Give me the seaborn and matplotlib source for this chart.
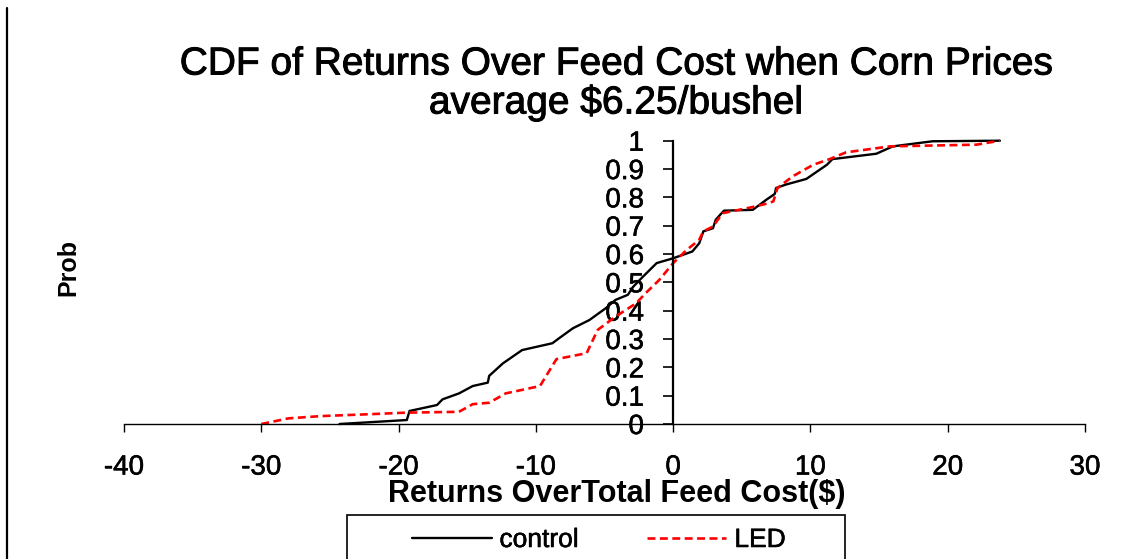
import numpy as np
import pandas as pd
import matplotlib
matplotlib.use("Agg")
import matplotlib.pyplot as plt
import matplotlib.patheffects as pe
import seaborn as sns
from matplotlib.lines import Line2D
from matplotlib.patches import Rectangle

# ---- data ----
control_x = [-24.3, -19.4, -19.2, -17.2, -16.8, -15.6, -14.6, -13.5, -13.4, -12.4,
             -11.0, -8.8, -8.3, -7.3, -6.1, -4.9, -4.2, -3.3, -2.9, -2.2, -1.2, 0.0,
             1.4, 1.9, 2.2, 2.9, 3.1, 3.7, 5.8, 6.8, 7.4, 7.5, 8.2, 9.7, 11.2, 11.6,
             14.8, 16.0, 18.9, 23.8]
control_p = [0.0, 0.014, 0.046, 0.067, 0.087, 0.108, 0.134, 0.146, 0.170, 0.214,
             0.261, 0.285, 0.303, 0.338, 0.367, 0.409, 0.438, 0.456, 0.485, 0.520, 0.568, 0.585,
             0.609, 0.638, 0.680, 0.691, 0.721, 0.753, 0.756, 0.792, 0.812, 0.833, 0.845, 0.865, 0.915, 0.935,
             0.954, 0.980, 0.998, 1.0]

led_x = [-30.0, -28.0, -25.6, -21.9, -19.5, -15.6, -14.6, -13.4, -12.2, -9.7,
         -8.5, -6.3, -5.5, -4.2, -2.7, -2.0, -1.0, 0.0, 1.0, 1.9, 2.2, 2.9,
         3.6, 5.8, 7.0, 7.3, 7.6, 8.7, 10.2, 11.4, 12.6, 15.8, 22.1, 23.8]
led_p = [0.0, 0.020, 0.028, 0.035, 0.040, 0.043, 0.070, 0.075, 0.108, 0.134,
         0.229, 0.250, 0.332, 0.379, 0.426, 0.462, 0.509, 0.568, 0.615, 0.650, 0.680, 0.697,
         0.744, 0.766, 0.780, 0.786, 0.833, 0.874, 0.915, 0.935, 0.959, 0.980, 0.986, 1.0]

x_ticks = [-40, -30, -20, -10, 0, 10, 20, 30]
y_ticks = [0, 0.1, 0.2, 0.3, 0.4, 0.5, 0.6, 0.7, 0.8, 0.9, 1]
y_tick_labels = ["0", "0.1", "0.2", "0.3", "0.4", "0.5", "0.6", "0.7", "0.8", "0.9", "1"]

title = "CDF of Returns Over Feed Cost when Corn Prices\naverage \\$6.25/bushel"
x_label = "Returns OverTotal Feed Cost(\\$)"
y_label = "Prob"

# ---- style ----
sns.set_theme(style="white")
plt.rcParams["font.family"] = ["Liberation Sans", "DejaVu Sans"]
plt.rcParams["text.color"] = "black"
plt.rcParams["axes.labelcolor"] = "black"

heavy = [pe.withStroke(linewidth=0.4, foreground="black")]

W, H = 1136, 559
fig = plt.figure(figsize=(W / 100, H / 100), dpi=100)
ax = fig.add_axes([124 / W, 1 - 424 / H, (1085 - 124) / W, (424 - 140.7) / H])

sns.lineplot(x=control_x, y=control_p, ax=ax, color="black", lw=1.7,
             estimator=None, sort=False, label="control")
sns.lineplot(x=led_x, y=led_p, ax=ax, color="#ff0000", lw=1.9,
             linestyle=(0, (3, 1.7)), estimator=None, sort=False, label="LED")
for ln in ax.lines:
    ln.set_clip_on(False)

ax.set_xlim(-40, 30)
ax.set_ylim(0, 1)
ax.spines["left"].set_position(("data", 0))
ax.spines["top"].set_visible(False)
ax.spines["right"].set_visible(False)
ax.spines["left"].set_color("black")
ax.spines["bottom"].set_color("black")
ax.spines["left"].set_linewidth(1.6)
ax.spines["bottom"].set_linewidth(1.0)

ax.set_xticks(x_ticks)
ax.set_xticklabels([str(v) for v in x_ticks])
ax.set_yticks(y_ticks)
ax.set_yticklabels(y_tick_labels)
ax.tick_params(axis="y", direction="out", length=7, width=1.2, pad=14,
               labelsize=20, left=True, color="black", labelcolor="black")
ax.tick_params(axis="x", direction="out", length=6, width=1.0, pad=16,
               labelsize=20, bottom=True, color="black", labelcolor="black")
for t in ax.get_xticklabels() + ax.get_yticklabels():
    t.set_path_effects(heavy)

ax.set_xlabel(x_label, fontsize=22, fontweight="bold")
ax.xaxis.label.set_va("center")
ax.xaxis.set_label_coords((617 - 124) / 961, (424 - 494) / 283.3)
ax.set_ylabel(y_label, fontsize=18, fontweight="bold")
ax.yaxis.label.set_va("center")
ax.yaxis.set_label_coords((68 - 124) / 961, (424 - 267) / 283.3)

fig.text(616 / W, 1 - 84 / H, title, ha="center", va="center",
         fontsize=28, linespacing=1.05,
         path_effects=[pe.withStroke(linewidth=0.7, foreground="black")])

# legend
handles, labels = ax.get_legend_handles_labels()
if ax.get_legend() is not None:
    ax.get_legend().remove()
leg = fig.legend(handles, labels, loc="center", bbox_to_anchor=(599 / W, 1 - 540 / H),
                 bbox_transform=fig.transFigure, ncol=2, frameon=False, fontsize=19,
                 handlelength=3.0, handletextpad=0.3, columnspacing=2.6, borderpad=0)
for t in leg.get_texts():
    t.set_path_effects(heavy)
fig.add_artist(Rectangle((347 / W, -0.1), 498 / W, (1 - 515 / H) + 0.1,
                         transform=fig.transFigure, fill=False, ec="black", lw=1.2))

# left border line of the chart area
fig.add_artist(Line2D([6.5 / W, 6.5 / W], [0, 1 - 8 / H], transform=fig.transFigure,
                      color="black", lw=1.6))

fig.savefig("out.png", dpi=100)
